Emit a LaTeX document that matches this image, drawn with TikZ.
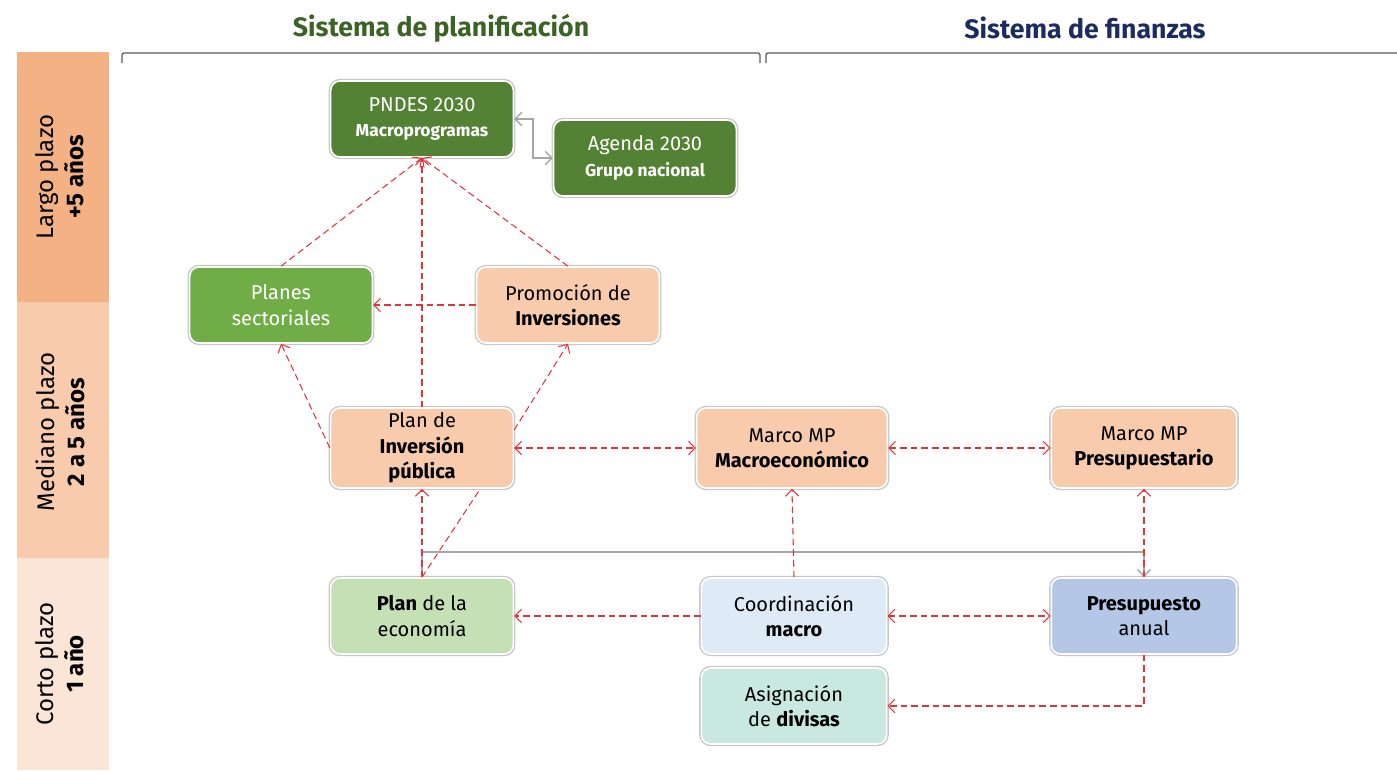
\documentclass[tikz,border=0pt]{standalone}
\usepackage{fontspec}
\setmainfont{Fira Sans}
\usepackage{xcolor}
\usetikzlibrary{arrows.meta,calc}

\definecolor{bandlargo}{HTML}{F4B183}
\definecolor{bandmediano}{HTML}{F8CBAD}
\definecolor{bandcorto}{HTML}{FBE5D6}
\definecolor{verdeosc}{HTML}{548235}
\definecolor{verde}{HTML}{70AD47}
\definecolor{verdecl}{HTML}{C5E0B4}
\definecolor{durazno}{HTML}{F8CBAD}
\definecolor{celeste}{HTML}{DEEBF7}
\definecolor{azul}{HTML}{B4C7E7}
\definecolor{turquesa}{HTML}{C9E8DF}
\definecolor{flecha}{HTML}{E0363A}
\definecolor{gris}{HTML}{A6A6A6}
\definecolor{titplan}{HTML}{3B6325}
\definecolor{titfin}{HTML}{1B2C5E}

\begin{document}
\begin{tikzpicture}[x=0.75pt,y=-0.75pt,
	>={Straight Barb[length=5pt,width=10pt]},
	box/.style={rounded corners=7pt,draw=white,line width=1.2pt,
		preaction={draw=black!22,line width=3.2pt},
		minimum width=137pt,minimum height=57pt,align=center,inner sep=1pt,
		font=\fontsize{15}{19}\selectfont},
	rel/.style={flecha,line width=0.8pt,dash pattern=on 5pt off 3pt},
	enlace/.style={gris,line width=1.1pt},
	plazo/.style={rotate=90,align=center,font=\fontsize{18}{22.5}\selectfont},
	titulo/.style={font=\fontsize{20}{24}\selectfont\bfseries}]
		\useasboundingbox (0,0) rectangle (1397,771);
		% franjas de plazo
		\fill[bandlargo] (17,52) rectangle (109,302);
		\fill[bandmediano] (17,302) rectangle (109,558);
		\fill[bandcorto] (17,558) rectangle (109,770);
		\node[plazo] (largo) at (60,177) {Largo plazo\\\textbf{+5 años}};
		\node[plazo] (mediano) at (60,432) {Mediano plazo\\\textbf{2 a 5 años}};
		\node[plazo] (corto) at (60,664) {Corto plazo\\\textbf{1 año}};
		% sistemas
		\node[titulo,text=titplan] (splan) at (441,28) {Sistema de planificación};
		\node[titulo,text=titfin] (sfin) at (1085,28) {Sistema de finanzas};
		\draw[black!65,line width=0.9pt,rounded corners=1.5pt] (122,63) -- (122,53) -- (760,53) -- (760,63);
		\draw[black!65,line width=0.9pt,rounded corners=1.5pt] (766,63) -- (766,53) -- (1397,53);
		% cajas
		\node[box,fill=verdeosc,text=white] (pndes) at (422,119) {PNDES 2030\\{\fontsize{13}{17}\selectfont\bfseries Macroprogramas}};
		\node[box,fill=verdeosc,text=white] (agenda) at (645,158) {Agenda 2030\\{\fontsize{13}{17}\selectfont\bfseries Grupo nacional}};
		\node[box,fill=verde,text=white] (planes) at (281,305) {Planes\\sectoriales};
		\node[box,fill=durazno] (prom) at (568,305) {Promoción de\\\textbf{Inversiones}};
		\node[box,fill=durazno,minimum height=60pt] (pinv) at (422,448) {Plan de\\\textbf{Inversión}\\\textbf{pública}};
		\node[box,fill=durazno,minimum width=143pt,minimum height=60pt] (mmac) at (792,448) {Marco MP\\\textbf{Macroeconómico}};
		\node[box,fill=durazno,minimum width=139pt,minimum height=60pt] (mpres) at (1144,448) {Marco MP\\\textbf{Presupuestario}};
		\node[box,fill=verdecl] (peco) at (422,616) {\textbf{Plan} de la\\economía};
		\node[box,fill=celeste,minimum width=139pt] (coord) at (794,616) {Coordinación\\\textbf{macro}};
		\node[box,fill=azul,minimum width=139pt] (pres) at (1144,616) {\textbf{Presupuesto}\\anual};
		\node[box,fill=turquesa,minimum width=139pt] (asig) at (794,706) {Asignación\\de \textbf{divisas}};
		% relaciones
		\draw[enlace,<->] (pndes.east) -- ++(19,0) |- (agenda.west);
		\draw[enlace,->] (peco.north) -- ++(0,-25) -| (pres.north);
		\draw[rel,->] (planes.north) -- (pndes.south);
		\draw[rel,->] (pinv.north) -- (pndes.south);
		\draw[rel,->] (prom.north) -- (pndes.south);
		\draw[rel,->] (prom.west) -- (planes.east);
		\draw[rel,->] (pinv.west) -- (planes.south);
		\draw[rel,->] (pinv.11) -- (prom.south);
		\draw[rel,<->] (pinv.east) -- (mmac.west);
		\draw[rel,<->] (mmac.east) -- (mpres.west);
		\draw[rel,->] (peco.north) -- (pinv.south);
		\draw[rel] (peco.north) -- (pinv.-35.5);
		\draw[rel,->] (coord.north) -- (mmac.south);
		\draw[rel,->] (pres.north) -- (mpres.south);
		\draw[rel,->] (coord.west) -- (peco.east);
		\draw[rel,<->] (coord.east) -- (pres.west);
		\draw[rel,->] (pres.south) |- (asig.east);
	\end{tikzpicture}
\end{document}
